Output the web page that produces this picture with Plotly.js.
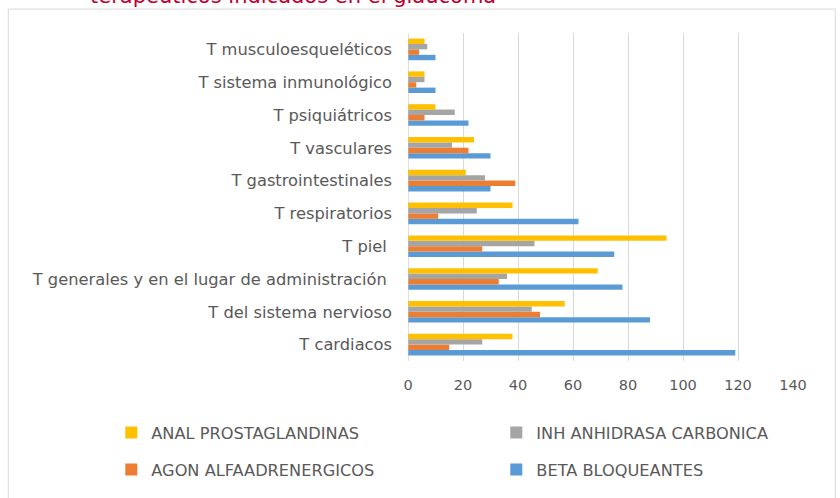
<!DOCTYPE html>
<html>
<head>
<meta charset="utf-8">
<script src="https://cdn.plot.ly/plotly-3.0.1.min.js"></script>
<style>html,body{margin:0;padding:0;background:#fff;}#chart{width:840px;height:498px;}</style>
</head>
<body>
<div id="chart"></div>
<script>
var categories = ["T cardiacos", "T del sistema nervioso", "T generales y en el lugar de administración ", "T piel ", "T respiratorios", "T gastrointestinales", "T vasculares", "T psiquiátricos", "T sistema inmunológico", "T musculoesqueléticos"];
var betaBloqueantes = [119, 88, 78, 75, 62, 30, 30, 22, 10, 10];
var agonAlfaadrenergicos = [15, 48, 33, 27, 11, 39, 22, 6, 3, 4];
var inhAnhidrasaCarbonica = [27, 45, 36, 46, 25, 28, 16, 17, 6, 7];
var analProstaglandinas = [38, 57, 69, 94, 38, 21, 24, 10, 6, 6];
var seriesNames = ["BETA BLOQUEANTES", "AGON ALFAADRENERGICOS", "INH ANHIDRASA CARBONICA", "ANAL PROSTAGLANDINAS"];
var xTicks = [0, 20, 40, 60, 80, 100, 120, 140];
var titleText = "terapéuticos indicados en el glaucoma";

var W = 840, H = 498;
var mL = 407.7, mR = 47.3, mT = 33, mB = 136;
var pw = W - mL - mR, ph = H - mT - mB;
function px2x(p){ return (p - mL) / pw; }
function py2y(p){ return (H - mB - p) / ph; }

var colors = ["#5B9BD5", "#ED7D31", "#A5A5A5", "#FFC000"];
var data = [betaBloqueantes, agonAlfaadrenergicos, inhAnhidrasaCarbonica, analProstaglandinas];
var legendFor = ["legend4", "legend3", "legend2", "legend"];
var traces = data.map(function(vals, i){
  return {
    type: "bar", orientation: "h",
    x: vals, y: categories, name: seriesNames[i],
    marker: {color: colors[i]},
    legend: legendFor[i],
    hoverinfo: "none"
  };
});

var fam = "DejaVu Sans, Verdana, sans-serif";
var catTxt = {family: fam, size: 16.3, color: "#595959"};
var legTxt = {family: fam, size: 16.2, color: "#595959"};
var tickTxt = {family: fam, size: 14.5, color: "#595959"};

function leg(px, py){
  return {x: px2x(px), y: py2y(py), xanchor: "left", yanchor: "middle",
          font: legTxt, bgcolor: "rgba(0,0,0,0)", itemwidth: 30, orientation: "h"};
}

var layout = {
  width: W, height: H,
  margin: {l: mL, r: mR, t: mT, b: mB, pad: 0},
  paper_bgcolor: "#ffffff", plot_bgcolor: "#ffffff",
  barmode: "group", bargap: 0.34, bargroupgap: 0,
  showlegend: true,
  font: catTxt,
  xaxis: {
    range: [0, 140], tickvals: xTicks, ticktext: xTicks.map(String),
    showgrid: true, gridcolor: "#d9d9d9", gridwidth: 1,
    zeroline: false, showline: false, ticks: "",
    tickfont: tickTxt, ticklabelstandoff: 13, fixedrange: true
  },
  yaxis: {
    type: "category", categoryorder: "array", categoryarray: categories,
    showgrid: false, zeroline: false,
    showline: false, ticks: "",
    tickfont: catTxt, ticklabelstandoff: 15, fixedrange: true
  },
  legend: leg(111, 433),
  legend2: leg(496, 433),
  legend3: leg(111, 470),
  legend4: leg(496, 470),
  shapes: [
    {type: "rect", xref: "paper", yref: "paper", x0: px2x(8), x1: px2x(835), y0: py2y(520), y1: py2y(9),
     line: {color: "#d9d9d9", width: 1}, fillcolor: "rgba(0,0,0,0)", layer: "below"},
    {type: "line", xref: "x", yref: "paper", x0: 0, x1: 0, y0: 0, y1: 1, line: {color: "#bfbfbf", width: 1}}
  ],
  annotations: [
    {text: titleText, xref: "paper", yref: "paper", x: px2x(88), y: py2y(10), xanchor: "left", yanchor: "bottom",
     showarrow: false, font: {family: "DejaVu Sans, Verdana, sans-serif", size: 21, color: "#C00030"}}
  ]
};

Plotly.newPlot("chart", traces, layout, {staticPlot: true, displayModeBar: false});
</script>
</body>
</html>
